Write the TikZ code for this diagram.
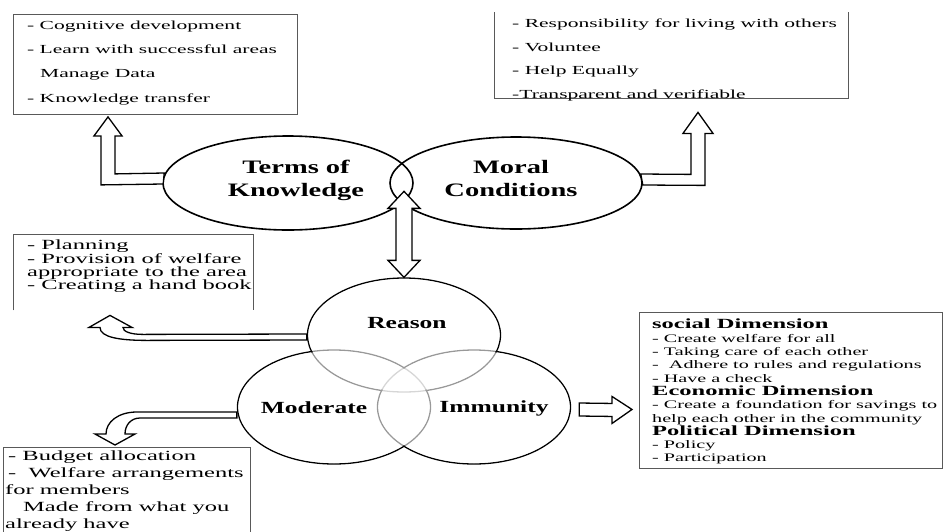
\documentclass[tikz,border=0pt]{standalone}
\usepackage{fontspec}
\setmainfont{Liberation Serif}
\newfontfamily\listfont[FakeStretch=1.75]{Liberation Serif}
\newfontfamily\topicfont[FakeStretch=1.5]{Liberation Serif}
\newcommand{\listhead}[1]{{\bfseries\fontsize{14}{13.3}\selectfont #1}}
\usepackage{tikz}
\usetikzlibrary{shapes.geometric, calc, positioning}

\begin{document}
\begin{tikzpicture}[x=1pt, y=-1pt, font=\listfont,
    boxframe/.style={draw=black!65, line width=0.9pt, inner sep=0pt, anchor=north west},
    openframe/.style={inner sep=0pt, anchor=north west},
    listtext/.style={anchor=north west, inner sep=0pt, align=left},
    bubble/.style={ellipse, draw, line width=1.6pt, inner sep=0pt},
    venn/.style={ellipse, draw, line width=1.3pt, inner sep=0pt, minimum width=193, minimum height=114},
    topictext/.style={align=center, font=\topicfont\bfseries\fontsize{19}{23}\selectfont},
    vennlabel/.style={font=\topicfont\bfseries\fontsize{17}{20}\selectfont},
    blockarrow/.style={draw, fill=white, line width=1.3pt, line join=miter}]

  \path[fill=white, use as bounding box] (0,0) rectangle (943,531);

  % Lists round the diagram
  \node[boxframe, minimum width=284, minimum height=100] (knowbox) at (13,14) {};
  \node[listtext, font=\listfont\fontsize{12.3}{24.3}\selectfont] at ($(knowbox.north west)+(14,6.5)$)
    {- Cognitive development\\- Learn with successful areas\\\hspace*{13pt}Manage Data\\- Knowledge transfer};

  \node[openframe, minimum width=354, minimum height=86] (moralbox) at (494,12) {};
  \draw[draw=black!65, line width=0.9pt] (moralbox.north west) |- (moralbox.south east) -- (moralbox.north east);
  \node[listtext, font=\listfont\fontsize{12.3}{23.7}\selectfont] at ($(moralbox.north west)+(18,6.5)$)
    {- Responsibility for living with others\\- Voluntee\\- Help Equally\\-Transparent and verifiable};

  \node[openframe, minimum width=240, minimum height=76] (planbox) at (13,234) {};
  \draw[draw=black!65, line width=0.9pt] (planbox.south west) |- (planbox.north east) -- (planbox.south east);
  \node[listtext, font=\listfont\fontsize{14}{13.3}\selectfont] at ($(planbox.north west)+(14,6)$)
    {- Planning\\- Provision of welfare\\appropriate to the area\\- Creating a hand book};

  \node[openframe, minimum width=247, minimum height=92] (budgetbox) at (3,447) {};
  \draw[draw=black!65, line width=0.9pt] (budgetbox.south west) |- (budgetbox.north east) -- (budgetbox.south east);
  \node[listtext, font=\listfont\fontsize{14}{17}\selectfont] at ($(budgetbox.north west)+(2,4)$)
    {\hspace*{3pt}- Budget allocation\\\hspace*{3pt}-~~Welfare arrangements\\for members\\\hspace*{18pt}Made from what you\\already have};

  \node[boxframe, minimum width=303, minimum height=156] (dimbox) at (639,312) {};
  \node[listtext, font=\listfont\fontsize{11.5}{13.3}\selectfont] at ($(dimbox.north west)+(13,7)$)
    {\listhead{social Dimension}\\- Create welfare for all\\- Taking care of each other\\-~~Adhere to rules and regulations\\- Have a check\\
     \listhead{Economic Dimension}\\- Create a foundation for savings to\\help each other in the community\\
     \listhead{Political Dimension}\\- Policy\\- Participation};

  % Two conditions
  \node[bubble, minimum width=250, minimum height=94] (terms) at (288,183) {};
  \node[bubble, minimum width=252, minimum height=92] (moral) at (516,183) {};
  \node[topictext] at ($(terms)+(8,-3)$) {Terms of\\Knowledge};
  \node[topictext] at ($(moral)+(-5,-5)$) {Moral\\Conditions};

  % Three principles
  \node[venn] (reason) at (404,335) {};
  \node[venn] (moderate) at (334,407) {};
  \node[venn] (immunity) at (474,407) {};
  \foreach \c in {reason, moderate, immunity}
    \fill[white, opacity=0.6] (\c) ellipse [x radius=95.5, y radius=56];
  \node[vennlabel] at ($(reason)+(3,-12)$) {Reason};
  \node[vennlabel] at ($(moderate)+(-20,1)$) {Moderate};
  \node[vennlabel] at ($(immunity)+(20,1)$) {Immunity};

  % Arrow tips
  \coordinate (knowTip) at ($(knowbox.south west)+(95,2)$);
  \coordinate (moralTip) at ($(moralbox.south west)+(204,14)$);
  \coordinate (lensTip) at ($(reason.north)+(0,-86)$);
  \coordinate (planTip) at ($(planbox.south west)+(97,5)$);
  \coordinate (budgetTip) at ($(budgetbox.north west)+(112,-2)$);
  \coordinate (dimTip) at ($(dimbox.west)+(-7,19)$);

  % Block arrows
  \draw[blockarrow] ($(terms.west)+(2,-10)$) -- ($(knowTip)+(7,57)$) -- ($(knowTip)+(7,19)$) -- ++(7,0)
    -- (knowTip) -- ($(knowTip)+(-14,19)$) -- ++(7,0) -- ($(knowTip)+(-7,68)$) -- ($(terms.west)+(1,1)$) -- cycle;
  \draw[blockarrow] ($(moral.east)+(-2,-9)$) -- ($(moralTip)+(-7,62)$) -- ($(moralTip)+(-7,21)$) -- ++(-8,0)
    -- (moralTip) -- ($(moralTip)+(15,21)$) -- ++(-8,0) -- ($(moralTip)+(7,73)$) -- ($(moral.east)+(0,2)$) -- cycle;
  \draw[blockarrow] (reason.north) -- ++(-16,-17) -- ++(8,0) -- ++(0,-52) -- ++(-8,0) -- (lensTip)
    -- ++(16,17) -- ++(-8,0) -- ++(0,52) -- ++(8,0) -- cycle;
  \draw[blockarrow] ($(reason.west)+(0,-1)$) -- ($(planTip)+(33,19)$)
    .. controls ($(planTip)+(20,19)$) and ($(planTip)+(13,16)$) .. ($(planTip)+(13,12)$)
    -- ++(9,0) -- (planTip) -- ($(planTip)+(-21,12)$) -- ++(11,0)
    .. controls ($(planTip)+(-10,22)$) and ($(planTip)+(10,25)$) .. ($(planTip)+(37,25)$)
    -- ($(reason.west)+(0,5)$) -- cycle;
  \draw[blockarrow] ($(moderate.west)+(0,5)$) -- ($(budgetTip)+(22,-33)$)
    .. controls ($(budgetTip)+(3,-33)$) and ($(budgetTip)+(-9,-23)$) .. ($(budgetTip)+(-9,-11)$)
    -- ++(-11,0) -- (budgetTip) -- ($(budgetTip)+(20,-11)$) -- ++(-10,0)
    .. controls ($(budgetTip)+(10,-20)$) and ($(budgetTip)+(16,-27)$) .. ($(budgetTip)+(25,-27)$)
    -- ($(moderate.west)+(0,11)$) -- cycle;
  \draw[blockarrow] ($(immunity.east)+(8,-4)$) -- ($(dimTip)+(-20,-6)$) -- ($(dimTip)+(-20,-13)$) -- (dimTip)
    -- ($(dimTip)+(-20,14)$) -- ($(dimTip)+(-20,7)$) -- ($(immunity.east)+(8,9)$) -- cycle;
\end{tikzpicture}
\end{document}
